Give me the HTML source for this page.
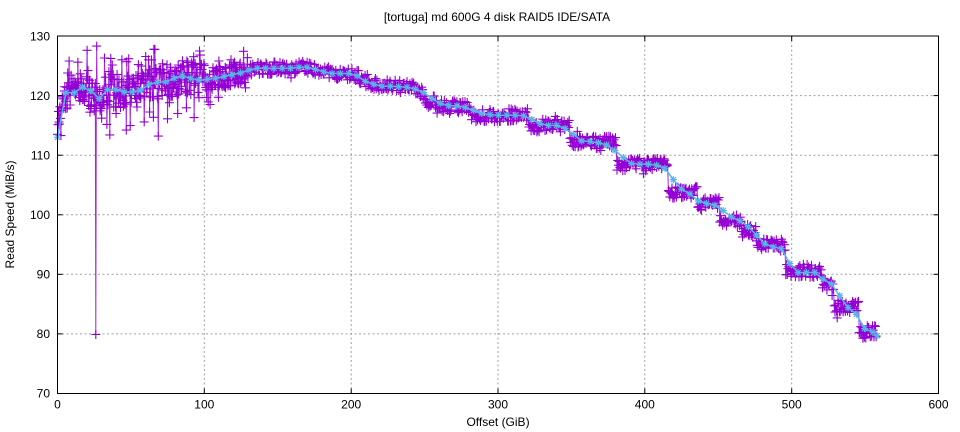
<!DOCTYPE html>
<html>
<head>
<meta charset="utf-8">
<style>
  html, body { margin: 0; padding: 0; background: #fff; }
  svg { display: block; }
  text { font-family: "Liberation Sans", "DejaVu Sans", sans-serif; fill: #000; }
</style>
</head>
<body>
<svg id="chart" width="960" height="432" viewBox="0 0 960 432" xmlns="http://www.w3.org/2000/svg">
  <rect x="0" y="0" width="960" height="432" fill="#fff"/>
  <g stroke="#a0a0a0" stroke-width="1" stroke-dasharray="2,2.5" fill="none">
    <line x1="204.3" y1="36" x2="204.3" y2="393.5"/>
    <line x1="351.2" y1="36" x2="351.2" y2="393.5"/>
    <line x1="498" y1="36" x2="498" y2="393.5"/>
    <line x1="644.8" y1="36" x2="644.8" y2="393.5"/>
    <line x1="791.7" y1="36" x2="791.7" y2="393.5"/>
    <line x1="57.5" y1="333.9" x2="938.5" y2="333.9"/>
    <line x1="57.5" y1="274.3" x2="938.5" y2="274.3"/>
    <line x1="57.5" y1="214.8" x2="938.5" y2="214.8"/>
    <line x1="57.5" y1="155.2" x2="938.5" y2="155.2"/>
    <line x1="57.5" y1="95.6" x2="938.5" y2="95.6"/>
  </g>
  <g id="series"></g>
  <rect x="57.5" y="36" width="881" height="357.5" fill="none" stroke="#000" stroke-width="1"/>
  <g stroke="#000" stroke-width="1">
    <line x1="57.5" y1="393.5" x2="57.5" y2="388.5"/>
    <line x1="204.3" y1="393.5" x2="204.3" y2="388.5"/><line x1="204.3" y1="36" x2="204.3" y2="41"/>
    <line x1="351.2" y1="393.5" x2="351.2" y2="388.5"/><line x1="351.2" y1="36" x2="351.2" y2="41"/>
    <line x1="498" y1="393.5" x2="498" y2="388.5"/><line x1="498" y1="36" x2="498" y2="41"/>
    <line x1="644.8" y1="393.5" x2="644.8" y2="388.5"/><line x1="644.8" y1="36" x2="644.8" y2="41"/>
    <line x1="791.7" y1="393.5" x2="791.7" y2="388.5"/><line x1="791.7" y1="36" x2="791.7" y2="41"/>
    <line x1="57.5" y1="333.9" x2="62.5" y2="333.9"/><line x1="938.5" y1="333.9" x2="933.5" y2="333.9"/>
    <line x1="57.5" y1="274.3" x2="62.5" y2="274.3"/><line x1="938.5" y1="274.3" x2="933.5" y2="274.3"/>
    <line x1="57.5" y1="214.8" x2="62.5" y2="214.8"/><line x1="938.5" y1="214.8" x2="933.5" y2="214.8"/>
    <line x1="57.5" y1="155.2" x2="62.5" y2="155.2"/><line x1="938.5" y1="155.2" x2="933.5" y2="155.2"/>
    <line x1="57.5" y1="95.6" x2="62.5" y2="95.6"/><line x1="938.5" y1="95.6" x2="933.5" y2="95.6"/>
  </g>
  <g font-size="12" text-anchor="end">
    <text x="50" y="397.5">70</text>
    <text x="50" y="338">80</text>
    <text x="50" y="278.5">90</text>
    <text x="50" y="219">100</text>
    <text x="50" y="159.5">110</text>
    <text x="50" y="100">120</text>
    <text x="50" y="40.5">130</text>
  </g>
  <g font-size="12" text-anchor="middle">
    <text x="57.5" y="408.5">0</text>
    <text x="204.3" y="408.5">100</text>
    <text x="351.2" y="408.5">200</text>
    <text x="498" y="408.5">300</text>
    <text x="644.8" y="408.5">400</text>
    <text x="791.7" y="408.5">500</text>
    <text x="938.5" y="408.5">600</text>
  </g>
  <text x="498" y="426" font-size="12" text-anchor="middle">Offset (GiB)</text>
  <text x="0" y="0" font-size="12" text-anchor="middle" transform="translate(14,214.5) rotate(-90)">Read Speed (MiB/s)</text>
  <text x="497" y="21" font-size="12" text-anchor="middle">[tortuga] md 600G 4 disk RAID5 IDE/SATA</text>
</svg>
<script>
(function(){
  var L=57.5,R=938.5,T=36,B=393.5;
  function X(v){return L+v*(R-L)/600;}
  function Y(v){return B-(v-70)*(B-T)/60;}
  var cy=[[0,113],[5.7,120.5],[11.4,120.5],[17,121.4],[22.7,120.8],[28.4,119.5],[34,121],[39.7,121],[45.4,120.6],[51,120.6],[56.7,120.9],[62.4,121.9],[68,122.2],[73.7,122.3],[79.4,122.9],[85,123.3],[90.7,122.9],[96.4,122.6],[102,122.7],[107.7,122.9],[113.4,123.2],[119,123.5],[124.7,123.8],[130.4,124.3],[136,124.6],[141.7,124.6],[147.4,124.6],[153,124.6],[158.7,124.6],[164.4,124.75],[170,124.75],[175.7,124.4],[181.4,124],[187,123.7],[192.7,123.7],[198.4,123.7],[204,123.3],[209.7,122.4],[215.4,121.9],[221,121.6],[226.7,121.6],[232.4,121.5],[238,121.4],[243.7,121.1],[249.4,120.5],[255,119.5],[260.7,118.7],[266.4,118.3],[272,118.3],[277.7,118],[283.4,117.5],[289,117],[294.7,116.8],[300.4,116.7],[306,116.7],[311.7,116.7],[317.4,116.6],[323,116],[328.7,115.3],[334.4,115],[340,115],[345.7,114.5],[351.4,113.5],[357,112.4],[362.7,112.3],[368.4,112.1],[374,111.7],[379.7,110.8],[385.4,109.6],[391,108.6],[396.7,108.5],[402.4,108.5],[408,108.3],[413.7,107.8],[419.4,105.9],[425,104.3],[430.7,103.5],[436.4,102.3],[442,101.9],[447.7,101.6],[453.4,100.7],[459,99.6],[464.7,99],[470.4,98],[476,96.6],[481.7,95.1],[487.4,94.6],[493,94.3],[498.7,91.8],[504.4,90.3],[510,90.3],[515.7,90.3],[521.4,89.2],[527,88.4],[532.7,86.4],[538.4,84.4],[544,83.3],[549.7,80.9],[555.4,80.3],[558.2,79.7]];
  function interp(t){
    for(var i=0;i<cy.length-1;i++){
      if(t>=cy[i][0]&&t<=cy[i+1][0]){
        var f=(t-cy[i][0])/(cy[i+1][0]-cy[i][0]);
        return cy[i][1]+f*(cy[i+1][1]-cy[i][1]);
      }
    }
    return cy[cy.length-1][1];
  }
  var plat=[[250,258,119.0],[258,282,118.1],[282,321,116.7],[321,349,115.0],[349,381,112.1],[381,416,108.4],[416,436,103.7],[436,451,101.8],[451,466,99.0],[466,476,97.3],[476,496,95.0],[496,521,90.6],[521,529,88.3],[529,546,84.6],[546,560,80.3]];
  var s=123456789;
  function rnd(){s^=s<<13;s^=s>>>17;s^=s<<5;return ((s>>>0)%100000)/100000;}
  var pts=[];
  var t=0;
  while(t<=558){
    var base,amp;
    if(t<250){
      base=interp(t);
      if(t<100){amp=2.9;base-=0.1;}
      else if(t<130){amp=2.0;}
      else {amp=1.05;}
      if(t<2){base=118;}
    } else {
      base=80.3;
      for(var k=0;k<plat.length;k++){if(t>=plat[k][0]&&t<plat[k][1]){base=plat[k][2];break;}}
      amp=1.1;
    }
    var v=base+(rnd()*2-1)*amp;
    var r=rnd();
    if(t<100&&r<0.16){v=base+(rnd()*2-1)*6.0;}
    else if(t<130&&r<0.1){v=base+(rnd()*2-1)*3.8;}
    else if(r<0.025){v=base+(rnd()*2-1)*2.0;}
    pts.push([t,v]);
    t+= (t<130)?0.33:0.5;
  }
  function setv(tt,v){var best=0,bd=1e9;for(var i=0;i<pts.length;i++){var dd=Math.abs(pts[i][0]-tt);if(dd<bd){bd=dd;best=i;}}pts[best][1]=v;}
  setv(0,113.5);setv(20,127.6);setv(26.7,128.3);setv(26,79.9);setv(35.5,113.4);setv(68.5,113.2);
  setv(32,126.3);setv(14,125.6);setv(44,126);setv(47,114.2);setv(88,125.8);setv(97,126.8);setv(93,116.3);setv(75,116.1);
  setv(8,125.8);setv(30,116.2);setv(40,117);setv(55,125.2);setv(62,126);setv(82,117);setv(110,125.8);setv(118,126);setv(104,118.5);
  var ns="http://www.w3.org/2000/svg";
  var g=document.getElementById("series");
  var d="",m="";
  for(var i=0;i<pts.length;i++){
    var x=X(pts[i][0]).toFixed(1),y=Y(pts[i][1]).toFixed(1);
    d+=(i?"L":"M")+x+" "+y;
    var xf=+x,yf=+y;
    m+="M"+(xf-4.5).toFixed(1)+" "+y+"h9M"+x+" "+(yf-4.5).toFixed(1)+"v9";
  }
  function path(dd,stroke,w,op){
    var p=document.createElementNS(ns,"path");
    p.setAttribute("d",dd);p.setAttribute("stroke",stroke);p.setAttribute("stroke-width",w);
    p.setAttribute("fill","none");if(op)p.setAttribute("stroke-opacity",op);
    g.appendChild(p);
  }
  path(d,"#9400d3",1,0.85);
  path(m,"#9400d3",1.1);
  var cd="",cm="";
  for(var j=0;j<cy.length;j++){
    var cx=X(cy[j][0]),cyy=Y(cy[j][1]);
    cd+=(j?"L":"M")+cx.toFixed(1)+" "+cyy.toFixed(1);
    cm+="M"+(cx-3.5).toFixed(1)+" "+cyy.toFixed(1)+"h7M"+cx.toFixed(1)+" "+(cyy-3.5).toFixed(1)+"v7";
    cm+="M"+(cx-2.6).toFixed(1)+" "+(cyy-2.6).toFixed(1)+"l5.2 5.2M"+(cx-2.6).toFixed(1)+" "+(cyy+2.6).toFixed(1)+"l5.2 -5.2";
  }
  path(cd,"#56b4e9",1.5);
  path(cm,"#56b4e9",1.2);
})();
</script>
</body>
</html>
